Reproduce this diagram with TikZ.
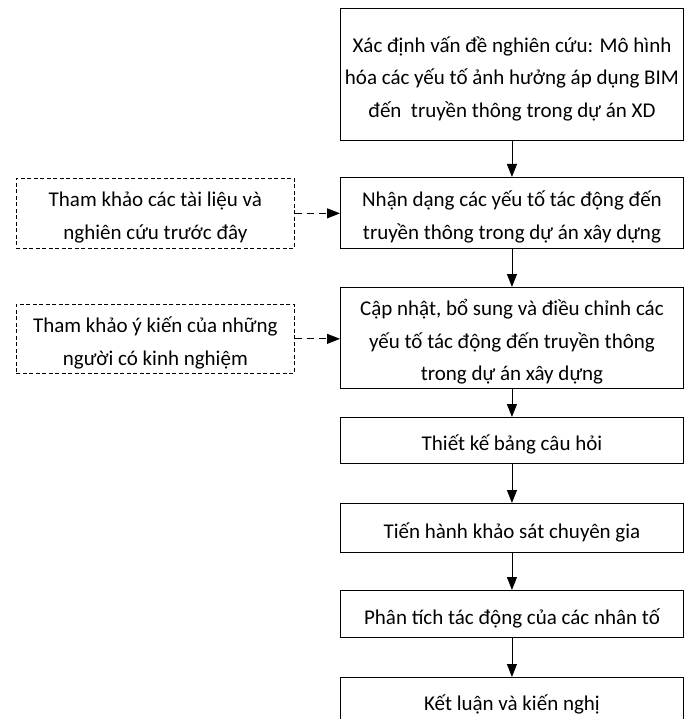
\documentclass[tikz,border=0pt]{standalone}
\usepackage{fontspec}
\setmainfont{Carlito}
\usetikzlibrary{arrows.meta}
\begin{document}
\begin{tikzpicture}[x=1pt,y=-1pt,
  box/.style={draw, line width=0.9pt, anchor=north west, inner sep=0pt},
  dbox/.style={box, dash pattern=on 4pt off 2.5pt, line width=0.7pt},
  txt/.style={inner sep=0pt, align=center, yshift=-4pt,
    font=\fontsize{21}{32.5}\selectfont},
  arr/.style={line width=0.9pt, -{Triangle[length=13pt,width=10pt]}},
  darr/.style={arr, dash pattern=on 7pt off 5pt}]
\useasboundingbox (0,0) rectangle (686,719);
\node[box, minimum width=343pt, minimum height=132pt] (b1) at (340,8) {};
\node[box, minimum width=343pt, minimum height=71pt] (b2) at (340,177) {};
\node[box, minimum width=343pt, minimum height=101pt] (b3) at (340,287) {};
\node[box, minimum width=343pt, minimum height=46pt] (b4) at (340,417) {};
\node[box, minimum width=343pt, minimum height=49pt] (b5) at (340,503) {};
\node[box, minimum width=343pt, minimum height=47pt] (b6) at (340,590) {};
\node[box, minimum width=343pt, minimum height=46pt] (b7) at (340,677) {};
\node[dbox, minimum width=278pt, minimum height=70pt] (d1) at (16,178) {};
\node[dbox, minimum width=278pt, minimum height=69pt] (d2) at (16,304) {};
\node[txt] (t1) at (b1.center)
  {Xác định vấn đề nghiên cứu: Mô hình\\hóa các yếu tố ảnh hưởng áp dụng BIM\\đến\ \ truyền thông trong dự án XD};
\node[txt] (t2) at (b2.center)
  {Nhận dạng các yếu tố tác động đến\\truyền thông trong dự án xây dựng};
\node[txt] (t3) at (b3.center)
  {Cập nhật, bổ sung và điều chỉnh các\\yếu tố tác động đến truyền thông\\trong dự án xây dựng};
\node[txt] (t4) at (b4.center) {Thiết kế bảng câu hỏi};
\node[txt] (t5) at (b5.center) {Tiến hành khảo sát chuyên gia};
\node[txt] (t6) at (b6.center) {Phân tích tác động của các nhân tố};
\node[txt] (t7) at (b7.center) {Kết luận và kiến nghị};
\node[txt] (t8) at (d1.center) {Tham khảo các tài liệu và\\nghiên cứu trước đây};
\node[txt] (t9) at (d2.center) {Tham khảo ý kiến của những\\người có kinh nghiệm};
\draw[arr] (b1) -- (b2);
\draw[arr] (b2) -- (b3);
\draw[arr] (b3) -- (b4);
\draw[arr] (b4) -- (b5);
\draw[arr] (b5) -- (b6);
\draw[arr] (b6) -- (b7);
\draw[darr] (d1.east) -- (d1.east -| b2.west);
\draw[darr] (d2.east) -- (d2.east -| b3.west);
\end{tikzpicture}
\end{document}
